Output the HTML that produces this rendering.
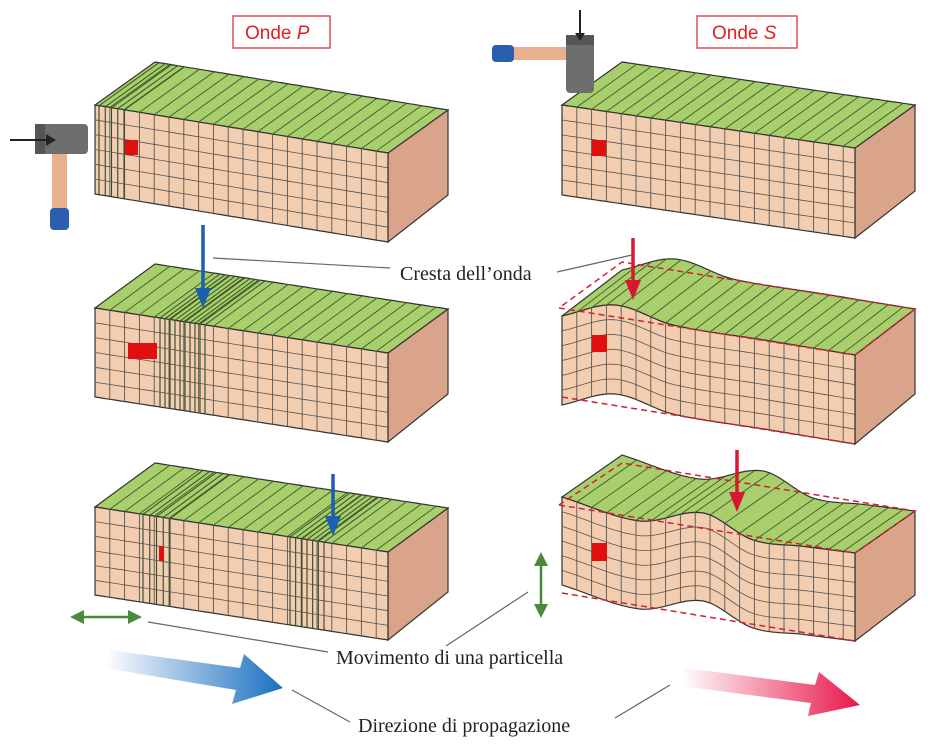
<!DOCTYPE html>
<html><head><meta charset="utf-8">
<style>
html,body{margin:0;padding:0;background:#fff;}
svg{display:block;}
.lbl{font-family:"Liberation Serif",serif;font-size:20px;fill:#222;}
.tag{font-family:"Liberation Sans",sans-serif;font-size:19px;fill:#e02020;}
</style></head>
<body>
<svg id="s" width="936" height="747" viewBox="0 0 936 747" xmlns="http://www.w3.org/2000/svg">
<defs>
<linearGradient id="gb" x1="0" x2="1" y1="0" y2="0"><stop offset="0" stop-color="#1a6fc0" stop-opacity="0"/><stop offset="1" stop-color="#1a6fc0"/></linearGradient>
<linearGradient id="gr" x1="0" x2="1" y1="0" y2="0"><stop offset="0" stop-color="#e8174a" stop-opacity="0"/><stop offset="1" stop-color="#e8174a"/></linearGradient>
</defs>
<g id="blocks"></g>
<g id="over">
<rect x="233" y="16" width="97" height="32" fill="#fff" stroke="#e05050" stroke-width="1.5"/>
<text class="tag" x="245" y="39">Onde <tspan font-style="italic">P</tspan></text>
<rect x="697" y="16" width="100" height="32" fill="#fff" stroke="#e05050" stroke-width="1.5"/>
<text class="tag" x="712" y="39">Onde <tspan font-style="italic">S</tspan></text>

<g stroke="#666" stroke-width="1.2">
<line x1="213" y1="258" x2="390" y2="268"/><line x1="557" y1="272" x2="632" y2="255"/>
<line x1="148" y1="622" x2="328" y2="652"/><line x1="528" y1="592" x2="446" y2="646"/>
<line x1="292" y1="690" x2="350" y2="722"/><line x1="670" y1="685" x2="615" y2="718"/>
</g>
<text class="lbl" x="400" y="280">Cresta dell’onda</text>
<text class="lbl" x="336" y="664">Movimento di una particella</text>
<text class="lbl" x="358" y="732">Direzione di propagazione</text>

<g stroke="#1a5fb0" stroke-width="3.5" fill="#1a5fb0"><line x1="203" y1="225" x2="203" y2="292"/><polygon points="195,288 211,288 203,308" stroke="none"/></g>
<g stroke="#1a5fb0" stroke-width="3.5" fill="#1a5fb0"><line x1="333" y1="474" x2="333" y2="520"/><polygon points="325,516 341,516 333,536" stroke="none"/></g>
<g stroke="#d81830" stroke-width="3.5" fill="#d81830"><line x1="633" y1="238" x2="633" y2="284"/><polygon points="625,280 641,280 633,300" stroke="none"/></g>
<g stroke="#d81830" stroke-width="3.5" fill="#d81830"><line x1="737" y1="450" x2="737" y2="496"/><polygon points="729,492 745,492 737,512" stroke="none"/></g>
<g fill="#4a8a3a" stroke="#4a8a3a" stroke-width="2.5"><line x1="80" y1="617" x2="132" y2="617"/><polygon points="70,617 84,610 84,624" stroke="none"/><polygon points="142,617 128,610 128,624" stroke="none"/></g>
<g fill="#4a8a3a" stroke="#4a8a3a" stroke-width="2.5"><line x1="541" y1="562" x2="541" y2="608"/><polygon points="541,552 534,566 548,566" stroke="none"/><polygon points="541,618 534,604 548,604" stroke="none"/></g>
<polygon points="110,650 240,668 244,654 283,688 232,704 236,690 105,668" fill="url(#gb)"/>
<polygon points="685,668 815,685 819,672 860,705 808,716 811,703 681,686" fill="url(#gr)"/>

<g>
<rect x="52" y="128" width="15" height="92" rx="5" fill="#e8b08c"/><rect x="50" y="208" width="19" height="22" rx="4" fill="#2a5fb0"/>
<rect x="35" y="124" width="53" height="30" rx="4" fill="#6e6e6e"/><rect x="35" y="124" width="10" height="30" fill="#555"/>
<line x1="10" y1="140" x2="48" y2="140" stroke="#222" stroke-width="2"/><polygon points="46,134 56,140 46,146" fill="#222"/>
</g>
<g>
<rect x="500" y="47" width="80" height="13" rx="5" fill="#e8b08c"/><rect x="492" y="45" width="22" height="17" rx="4" fill="#2a5fb0"/>
<rect x="566" y="35" width="28" height="58" rx="4" fill="#6e6e6e"/><rect x="566" y="35" width="28" height="10" fill="#555"/>
<line x1="580" y1="10" x2="580" y2="35" stroke="#222" stroke-width="2"/><polygon points="575,33 580,41 585,33" fill="#222"/>
</g>
</g>
</svg>
<script>
const NS="http://www.w3.org/2000/svg";
const G=document.getElementById('blocks');
function el(t,a,p){const e=document.createElementNS(NS,t);for(const k in a)e.setAttribute(k,a[k]);(p||G).appendChild(e);return e;}
// Catmull-Rom (x-parametrised) smooth curve through points
function spline(P){return x=>{
  if(x<=P[0][0])return P[0][1];
  const n=P.length;
  for(let i=1;i<n;i++){if(x<=P[i][0]||i===n-1){
    const a=P[i-1],b=P[i];const w=b[0]-a[0];const t=Math.min(1,(x-a[0])/w);
    const m=(j)=>{const L=P[Math.max(0,j-1)],R=P[Math.min(n-1,j+1)];return (R[1]-L[1])/(R[0]-L[0])*w;};
    const m0=m(i-1),m1=m(i);
    const t2=t*t,t3=t2*t;
    return (2*t3-3*t2+1)*a[1]+(t3-2*t2+t)*m0+(-2*t3+3*t2)*b[1]+(t3-t2)*m1;}}
};}
function lin(x0,y0,x1,y1){return x=>y0+(y1-y0)*(x-x0)/(x1-x0);}
function block(name,x0,x1,topFn,h,DX,DY,dense,red,base){
  const g=el('g',{});
  
  
  const N=100,xs=[];for(let i=0;i<=N;i++)xs.push(x0+(x1-x0)*i/N);
  const top=xs.map(x=>[x,topFn(x)]),bot=xs.map(x=>[x,topFn(x)+h]);
  const pts=a=>a.map(p=>p[0].toFixed(1)+','+p[1].toFixed(1)).join(' ');
  const yR=topFn(x1);
  el('polygon',{points:`${x1},${yR} ${x1+DX},${yR+DY} ${x1+DX},${yR+DY+h-4} ${x1},${yR+h}`,fill:'#d9a48a',stroke:'#333','stroke-width':1.2},g);
  const back=top.map(p=>[p[0]+DX,p[1]+DY]).reverse();
  el('polygon',{points:pts(top.concat(back)),fill:'#a8cf6c',stroke:'#333','stroke-width':1.2},g);
  el('polygon',{points:pts(top.concat(bot.slice().reverse())),fill:'#f3cdb0',stroke:'#333','stroke-width':1.2},g);
  const cols=[];const cw=14.8;for(let x=x0+cw;x<x1-3;x+=cw)cols.push([x,0.9,'#555']);
  dense.forEach(x=>cols.push([x,1.1,'#2d4a2a']));
  cols.forEach(c=>{const x=c[0],y=topFn(x);
    el('line',{x1:x,y1:y,x2:x,y2:y+h,stroke:c[2],'stroke-width':c[1]},g);
    el('line',{x1:x,y1:y,x2:x+DX,y2:y+DY,stroke:'#3d5a2a','stroke-width':c[1]},g);});
  const rows=6;for(let r=1;r<rows;r++){const f=r/rows;
    el('polyline',{points:pts(xs.map(x=>[x,topFn(x)+h*f])),fill:'none',stroke:'#555','stroke-width':0.8},g);}
  if(red){el('rect',{x:red[0],y:red[1],width:red[2],height:red[3],fill:'#e01010'},g);}
  if(base){
    const b0=base[0],b1=base[1];
    const L=[[x0-3,b0],[x1,b1],[x1+DX,b1+DY],[x0+DX,b0+DY],[x0-3,b0]];
    el('polyline',{points:pts(L),fill:'none',stroke:'#d42030','stroke-width':1.5,'stroke-dasharray':'6,4'},g);
    el('polyline',{points:pts([[x0,b0+h],[x1,b1+h]]),fill:'none',stroke:'#d42030','stroke-width':1.5,'stroke-dasharray':'6,4'},g);
  }
}
function range(a,b,n){const r=[];for(let i=0;i<n;i++)r.push(a+(b-a)*i/(n-1));return r;}
block('p-wave-block-1',95,388,lin(95,105,388,153),89,60,-43,range(99,124,5),[125,140,13,15]);
block('p-wave-block-2',95,388,lin(95,308,388,353),89,60,-44,range(160,205,10),[128,343,29,16]);
block('p-wave-block-3',95,388,lin(95,507,388,552),88,60,-44,range(143,170,5).concat(range(290,324,7)),[159,546,5,15]);
block('s-wave-block-1',562,855,lin(562,105,855,148),90,60,-43,[],[592,140,14,16]);
const s2=spline([[562,316],[615,305],[673,325],[764,340],[855,355]]);
block('s-wave-block-2',562,855,s2,89,60,-46,[],[592,335,15,17],[308,355]);
const s3=spline([[562,497],[640,521],[703,513],[753,540],[804,546.5],[855,553]]);
block('s-wave-block-3',562,855,s3,88,60,-42,[],[592,543,15,18],[505,553]);
</script>
</body></html>
